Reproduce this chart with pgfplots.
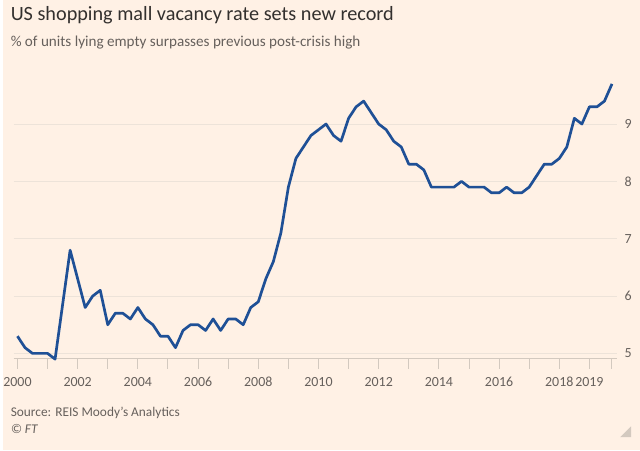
\documentclass[border=0pt]{standalone}
\usepackage{pgfplots}
\pgfplotsset{compat=1.18}
\usepackage{fontspec}
\setmainfont{Carlito}
\definecolor{bg}{HTML}{FFF1E5}
\definecolor{linec}{HTML}{1F5096}
\definecolor{gridc}{HTML}{EDE3D9}
\definecolor{axisc}{HTML}{D3C9BF}
\definecolor{txtgrey}{HTML}{66605C}
\definecolor{titlec}{HTML}{33302E}
\pgfplotstableread{
x y
2000.00 5.3
2000.25 5.1
2000.50 5.0
2000.75 5.0
2001.00 5.0
2001.25 4.9
2001.50 5.85
2001.75 6.8
2002.00 6.3
2002.25 5.8
2002.50 6.0
2002.75 6.1
2003.00 5.5
2003.25 5.7
2003.50 5.7
2003.75 5.6
2004.00 5.8
2004.25 5.6
2004.50 5.5
2004.75 5.3
2005.00 5.3
2005.25 5.1
2005.50 5.4
2005.75 5.5
2006.00 5.5
2006.25 5.4
2006.50 5.6
2006.75 5.4
2007.00 5.6
2007.25 5.6
2007.50 5.5
2007.75 5.8
2008.00 5.9
2008.25 6.3
2008.50 6.6
2008.75 7.1
2009.00 7.9
2009.25 8.4
2009.50 8.6
2009.75 8.8
2010.00 8.9
2010.25 9.0
2010.50 8.8
2010.75 8.7
2011.00 9.1
2011.25 9.3
2011.50 9.4
2011.75 9.2
2012.00 9.0
2012.25 8.9
2012.50 8.7
2012.75 8.6
2013.00 8.3
2013.25 8.3
2013.50 8.2
2013.75 7.9
2014.00 7.9
2014.25 7.9
2014.50 7.9
2014.75 8.0
2015.00 7.9
2015.25 7.9
2015.50 7.9
2015.75 7.8
2016.00 7.8
2016.25 7.9
2016.50 7.8
2016.75 7.8
2017.00 7.9
2017.25 8.1
2017.50 8.3
2017.75 8.3
2018.00 8.4
2018.25 8.6
2018.50 9.1
2018.75 9.0
2019.00 9.3
2019.25 9.3
2019.50 9.4
2019.75 9.7
}\datatable
\begin{document}
\begin{tikzpicture}[x=1pt,y=1pt]
\fill[bg] (0,0) rectangle (640,452);
\node[anchor=base west,inner sep=0pt,text=titlec,font=\fontsize{20.3}{24}\selectfont] at (8,431) {US shopping mall vacancy rate sets new record};
\node[anchor=base west,inner sep=0pt,text=txtgrey,font=\fontsize{15.2}{18}\selectfont] at (8,405.5) {\% of units lying empty surpasses previous post-crisis high};
\node[anchor=base west,inner sep=0pt,text=txtgrey,font=\fontsize{13.4}{15}\selectfont] at (8,34) {Source: REIS Moody's Analytics};
\node[anchor=base west,inner sep=0pt,text=txtgrey,font=\fontsize{13.4}{15}\selectfont\itshape] at (8,17) {\copyright{} FT};
\fill[axisc] (631,13) -- (631,24) -- (620,13) -- cycle;
\begin{axis}[
  at={(11pt,92pt)}, anchor=south west,
  scale only axis, width=606pt, height=289pt,
  xmin=1999.87, xmax=2019.92,
  ymin=4.91, ymax=9.93,
  axis x line*=bottom, axis y line*=right,
  x axis line style={draw=axisc, line width=1pt},
  y axis line style={draw=none},
  xtick={2000,2001,...,2019,2019.75},
  xticklabels={2000,,2002,,2004,,2006,,2008,,2010,,2012,,2014,,2016,,2018,2019,},
  ytick={5,6,7,8,9},
  ymajorgrids, grid style={draw=gridc, line width=0.9pt},
  tick align=outside, major tick length=10pt,
  every tick/.style={draw=axisc, line width=1pt},
  xtick style={draw=axisc, line width=1pt},
  ytick style={draw=none},
  /pgf/number format/assume math mode=true,
  ticklabel style={text=txtgrey, font=\fontsize{14}{16}\selectfont},
  xticklabel style={yshift=-5pt},
  yticklabel style={xshift=-6pt},
  clip=false,
]
\addplot[linec, line width=2.7pt, line join=round] table[x=x,y=y] {\datatable};
\end{axis}
\end{tikzpicture}
\end{document}
